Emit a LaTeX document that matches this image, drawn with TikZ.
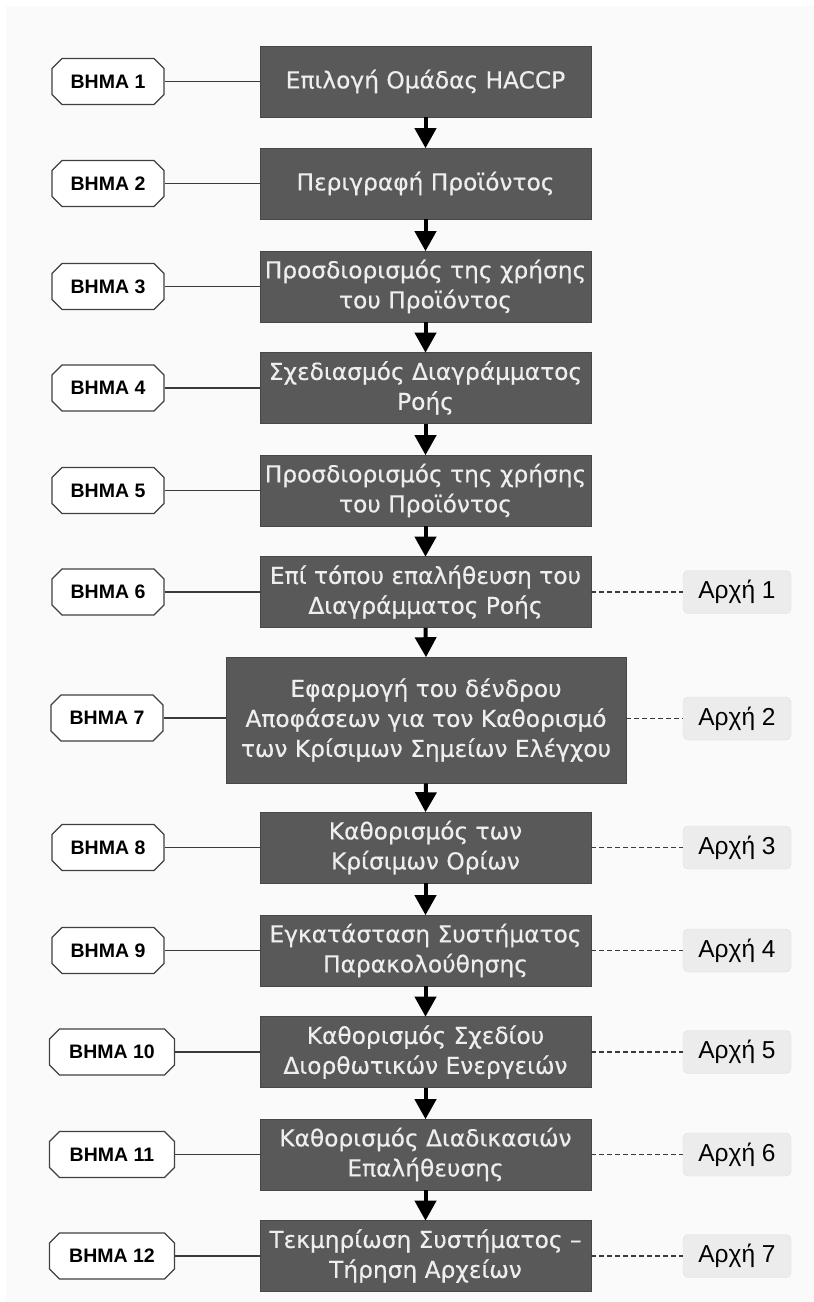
\documentclass[tikz,border=0pt]{standalone}
\usepackage{fontspec}
\setmainfont{DejaVu Sans}
\newfontfamily\boxfont[FakeBold=0.4]{DejaVu Sans}
\newfontfamily\lblfont{Liberation Sans}
\usetikzlibrary{shapes.misc,arrows.meta}
\definecolor{boxgray}{HTML}{595959}
\definecolor{bgpage}{HTML}{FAFAFA}
\definecolor{archfill}{HTML}{ECECEC}
\definecolor{boxtext}{HTML}{EEEEEE}
\definecolor{linegray}{HTML}{3A3A3A}
\tikzset{
  mainbox/.style={rectangle, fill=boxgray, draw=boxgray!80!black, line width=0.6pt,
    minimum width=331pt, minimum height=71pt, inner sep=2pt,
    text=boxtext, font=\boxfont\fontsize{23.3}{30}\selectfont, align=center},
  stepbox/.style={chamfered rectangle, chamfered rectangle sep=5pt,
    draw=black!75, line width=1.1pt, fill=white, minimum width=112pt, minimum height=46pt,
    inner sep=0pt, font=\lblfont\bfseries\fontsize{19.5}{21}\selectfont},
  archbox/.style={rectangle, rounded corners=5pt, fill=archfill, draw=archfill!95!black, line width=0.4pt,
    minimum width=108pt, minimum height=43pt, inner sep=0pt, font=\lblfont\fontsize{24.5}{26}\selectfont},
  link/.style={draw=linegray, line width=1.3pt},
  dlink/.style={draw=linegray, line width=1.2pt, dash pattern=on 5pt off 3pt},
  flow/.style={draw=black, line width=4pt, -{Triangle[width=21pt,length=20pt]}, shorten >=-0.5pt},
}
\begin{document}
\begin{tikzpicture}[x=1pt,y=-1pt]
\useasboundingbox (0,0) rectangle (814,1302);
\fill[bgpage] (6,6) rectangle (814,1302);

% main boxes
\node[mainbox] (b1) at (425.5,81.5) {Επιλογή Ομάδας HACCP};
\node[mainbox] (b2) at (425.5,183.5) {Περιγραφή Προϊόντος};
\node[mainbox] (b3) at (425.5,286.5) {Προσδιορισμός της χρήσης\\του Προϊόντος};
\node[mainbox] (b4) at (425.5,388) {Σχεδιασμός Διαγράμματος\\Ροής};
\node[mainbox] (b5) at (425.5,490.5) {Προσδιορισμός της χρήσης\\του Προϊόντος};
\node[mainbox] (b6) at (425.5,592) {Επί τόπου επαλήθευση του\\Διαγράμματος Ροής};
\node[mainbox, minimum width=400pt, minimum height=126pt] (b7) at (426,720) {Εφαρμογή του δένδρου\\Αποφάσεων για τον Καθορισμό\\των Κρίσιμων Σημείων Ελέγχου};
\node[mainbox] (b8) at (425.5,847.5) {Καθορισμός των\\Κρίσιμων Ορίων};
\node[mainbox] (b9) at (425.5,950.5) {Εγκατάσταση Συστήματος\\Παρακολούθησης};
\node[mainbox] (b10) at (425.5,1052) {Καθορισμός Σχεδίου\\Διορθωτικών Ενεργειών};
\node[mainbox] (b11) at (425.5,1154.5) {Καθορισμός Διαδικασιών\\Επαλήθευσης};
\node[mainbox] (b12) at (425.5,1256) {Τεκμηρίωση Συστήματος –\\Τήρηση Αρχείων};

% step labels
\node[stepbox] (s1) at (108,81.5) {ΒΗΜΑ 1};
\node[stepbox] (s2) at (108,183.5) {ΒΗΜΑ 2};
\node[stepbox] (s3) at (108,286.5) {ΒΗΜΑ 3};
\node[stepbox] (s4) at (108,388) {ΒΗΜΑ 4};
\node[stepbox] (s5) at (108,490.5) {ΒΗΜΑ 5};
\node[stepbox] (s6) at (108,592) {ΒΗΜΑ 6};
\node[stepbox] (s7) at (107,718) {ΒΗΜΑ 7};
\node[stepbox] (s8) at (108,847.5) {ΒΗΜΑ 8};
\node[stepbox] (s9) at (108,950.5) {ΒΗΜΑ 9};
\node[stepbox, minimum width=125pt] (s10) at (112,1052) {ΒΗΜΑ 10};
\node[stepbox, minimum width=125pt] (s11) at (112,1154.5) {ΒΗΜΑ 11};
\node[stepbox, minimum width=125pt] (s12) at (112,1256) {ΒΗΜΑ 12};

% principle labels
\node[archbox] (a1) at (737,592) {Αρχή 1};
\node[archbox] (a2) at (737,718.5) {Αρχή 2};
\node[archbox] (a3) at (737,847.5) {Αρχή 3};
\node[archbox] (a4) at (737,950.5) {Αρχή 4};
\node[archbox] (a5) at (737,1052) {Αρχή 5};
\node[archbox] (a6) at (737,1154.5) {Αρχή 6};
\node[archbox] (a7) at (737,1256) {Αρχή 7};

% step connectors
\foreach \i in {1,...,12} {
  \draw[link] (s\i.east) -- (s\i.east -| b\i.west);
}
% principle connectors
\draw[dlink] (b6.east) -- (a1.west);
\draw[dlink] (b7.east |- a2.west) -- (a2.west);
\draw[dlink] (b8.east) -- (a3.west);
\draw[dlink] (b9.east) -- (a4.west);
\draw[dlink] (b10.east) -- (a5.west);
\draw[dlink] (b11.east) -- (a6.west);
\draw[dlink] (b12.east) -- (a7.west);

% flow arrows
\foreach \i/\j in {1/2,2/3,3/4,4/5,5/6,6/7,7/8,8/9,9/10,10/11,11/12} {
  \draw[flow] (b\i.south) -- (b\j.north);
}
\end{tikzpicture}
\end{document}
